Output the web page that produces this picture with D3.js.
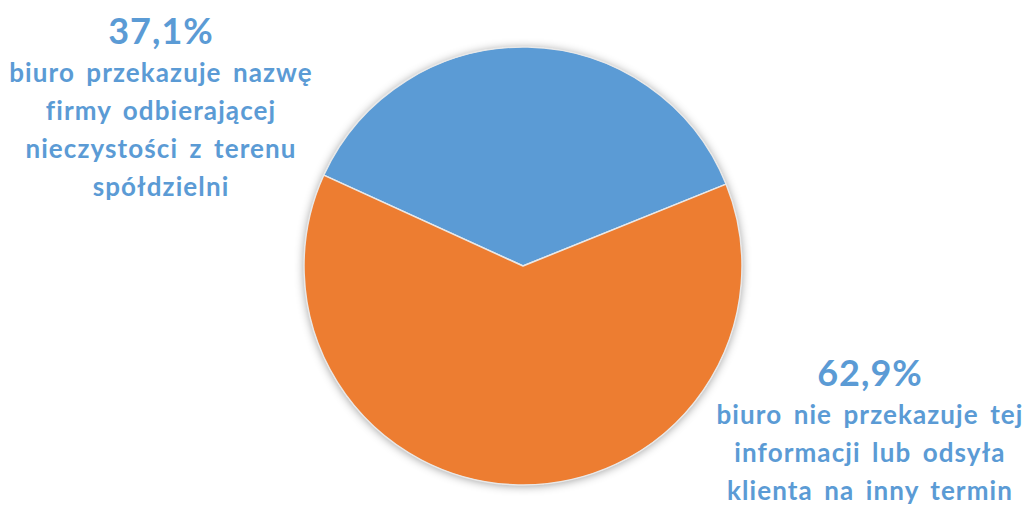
<!DOCTYPE html>
<html>
<head>
<meta charset="utf-8">
<script src="https://cdn.jsdelivr.net/npm/d3@7"></script>
<style>
  body { margin: 0; background: #fff; }
  svg { display: block; }
</style>
</head>
<body>
<div id="chart"></div>
<script>
// slice data
var categories = ["biuro przekazuje nazwę firmy odbierającej nieczystości z terenu spółdzielni",
                  "biuro nie przekazuje tej informacji lub odsyła klienta na inny termin"];
var values = [37.1, 62.9];
var percentLabels = ["37,1%", "62,9%"];
var labelLines = [
  ["biuro przekazuje nazwę", "firmy odbierającej", "nieczystości z terenu", "spółdzielni"],
  ["biuro nie przekazuje tej", "informacji lub odsyła", "klienta na inny termin"]
];
var colors = ["#5B9BD5", "#ED7D31"];

var width = 1027, height = 506;
var cx = 523, cy = 266, radius = 219;

var svg = d3.select("#chart").append("svg")
  .attr("width", width)
  .attr("height", height);

var defs = svg.append("defs");
var shadow = defs.append("filter")
  .attr("id", "shadow")
  .attr("x", "-20%").attr("y", "-20%")
  .attr("width", "140%").attr("height", "140%");
shadow.append("feDropShadow")
  .attr("dx", 0).attr("dy", 1)
  .attr("stdDeviation", 5)
  .attr("flood-color", "#000")
  .attr("flood-opacity", 0.4);

var pie = d3.pie()
  .sort(null)
  .value(function(d){ return d; })
  .startAngle(-65.5 * Math.PI / 180)
  .endAngle(-65.5 * Math.PI / 180 + 2 * Math.PI);

var arc = d3.arc().innerRadius(0).outerRadius(radius);

var g = svg.append("g")
  .attr("transform", "translate(" + cx + "," + cy + ")");

g.append("circle")
  .attr("r", radius)
  .attr("fill", "#fff")
  .attr("filter", "url(#shadow)");

g.selectAll("path")
  .data(pie(values))
  .enter()
  .append("path")
  .attr("d", arc)
  .attr("fill", function(d, i){ return colors[i]; })
  .attr("stroke", "#e8e8e8")
  .attr("stroke-width", 1.5)
  .attr("stroke-linejoin", "round");

// labels: [center x, percent baseline]
var labelPos = [[161, 44], [870, 386]];
var lineGap = 38;

labelLines.forEach(function(lines, i){
  var lg = svg.append("g")
    .attr("font-family", "Lato, 'Open Sans', sans-serif")
    .attr("font-weight", 700)
    .attr("fill", colors[0])
    .attr("text-anchor", "middle");

  lg.append("text")
    .attr("x", labelPos[i][0])
    .attr("y", labelPos[i][1])
    .attr("font-size", 36)
    .attr("letter-spacing", 1)
    .text(percentLabels[i]);

  lines.forEach(function(line, j){
    lg.append("text")
      .attr("x", labelPos[i][0])
      .attr("y", labelPos[i][1] + 38 + j * lineGap)
      .attr("font-size", 26)
      .attr("letter-spacing", 1.1)
      .attr("word-spacing", 4)
      .text(line);
  });
});
</script>
</body>
</html>
